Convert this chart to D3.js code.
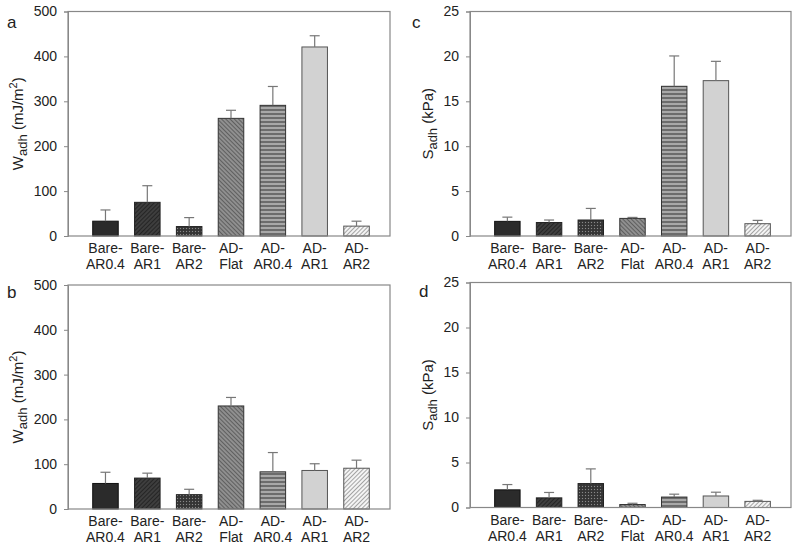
<!DOCTYPE html>
<html><head><meta charset="utf-8">
<script src="https://cdn.jsdelivr.net/npm/d3@7"></script>
<style>body{margin:0;background:#fff}svg{display:block}text{font-family:"Liberation Sans",Arial,sans-serif;fill:#222}</style>
</head><body>
<svg id="chart" width="800" height="545"></svg>
<script>
const categories = ["Bare-AR0.4","Bare-AR1","Bare-AR2","AD-Flat","AD-AR0.4","AD-AR1","AD-AR2"];
const labelLines = [["Bare-","AR0.4"],["Bare-","AR1"],["Bare-","AR2"],["AD-","Flat"],["AD-","AR0.4"],["AD-","AR1"],["AD-","AR2"]];
// panel a: W_adh (mJ/m2)
const wadhA = [33, 75, 21, 262, 291, 421, 22];
const wadhAErr = [58, 112, 41, 280, 333, 446, 33];
// panel b: W_adh (mJ/m2)
const wadhB = [57, 69, 32, 230, 83, 86, 91];
const wadhBErr = [82, 80, 44, 249, 126, 101, 109];
// panel c: S_adh (kPa)
const sadhC = [1.63, 1.5, 1.78, 1.96, 16.67, 17.3, 1.37];
const sadhCErr = [2.1, 1.78, 3.07, 2.07, 20.05, 19.45, 1.74];
// panel d: S_adh (kPa)
const sadhD = [1.96, 1.07, 2.66, 0.33, 1.16, 1.28, 0.68];
const sadhDErr = [2.55, 1.67, 4.29, 0.47, 1.48, 1.7, 0.8];
const wTicks = [0,100,200,300,400,500];
const sTicks = [0,5,10,15,20,25];

const svg = d3.select("#chart");
const defs = svg.append("defs");
function pat(id, w, h, bg, draw, rot){
  const p = defs.append("pattern").attr("id", id).attr("patternUnits","userSpaceOnUse")
    .attr("width", w).attr("height", h);
  if (rot) p.attr("patternTransform", "rotate(" + rot + ")");
  p.append("rect").attr("width", w).attr("height", h).attr("fill", bg);
  draw(p);
}
pat("p1", 4, 4, "#2b2b2b", p=>{});
pat("p2", 3, 3, "#3e3e3e", p=>p.append("line").attr("x1",0).attr("y1",0).attr("x2",0).attr("y2",3).attr("stroke","#1a1a1a").attr("stroke-width",1.4), 45);
pat("p3", 3, 3, "#3a3a3a", p=>{p.append("rect").attr("x",0).attr("y",0).attr("width",1).attr("height",1).attr("fill","#888");p.append("rect").attr("x",1.5).attr("y",1.5).attr("width",1).attr("height",1).attr("fill","#222");});
pat("p4", 3, 3, "#8f8f8f", p=>p.append("line").attr("x1",0).attr("y1",0).attr("x2",0).attr("y2",3).attr("stroke","#444").attr("stroke-width",1.3), -45);
pat("p5", 4, 4, "#a8a8a8", p=>p.append("line").attr("x1",0).attr("y1",2).attr("x2",4).attr("y2",2).attr("stroke","#444").attr("stroke-width",1.2));
pat("p6", 4, 4, "#d2d2d2", p=>{});
pat("p7", 3, 3, "#f4f4f4", p=>p.append("line").attr("x1",0).attr("y1",0).attr("x2",0).attr("y2",3).attr("stroke","#555").attr("stroke-width",1), 45);
const fills = ["url(#p1)","url(#p2)","url(#p3)","url(#p4)","url(#p5)","url(#p6)","url(#p7)"];
const strokes = ["#111","#222","#222","#333","#333","#555","#555"];

function panel(cfg){
  const g = svg.append("g");
  const x = d3.scaleBand().domain(categories).range([cfg.x0 + 4, cfg.x1]).paddingInner(0.39).paddingOuter(0.495);
  const y = d3.scaleLinear().domain([0, cfg.max]).range([cfg.y1, cfg.y0]);
  g.selectAll("rect.bar").data(categories).join("rect").attr("class","bar")
    .attr("x", d=>x(d)).attr("width", x.bandwidth())
    .attr("y", (d,i)=>y(cfg.vals[i])).attr("height", (d,i)=>y(0)-y(cfg.vals[i]))
    .attr("fill", (d,i)=>fills[i]).attr("stroke", (d,i)=>strokes[i]).attr("stroke-width",1);
  const eg = g.append("g").attr("stroke","#777").attr("stroke-width",1.2);
  categories.forEach((c,i)=>{
    const cx = x(c) + x.bandwidth()/2;
    eg.append("line").attr("x1",cx).attr("x2",cx).attr("y1",y(cfg.vals[i])).attr("y2",y(cfg.errs[i]));
    eg.append("line").attr("x1",cx-5).attr("x2",cx+5).attr("y1",y(cfg.errs[i])).attr("y2",y(cfg.errs[i]));
  });
  g.append("rect").attr("x",cfg.x0).attr("y",cfg.y0).attr("width",cfg.x1-cfg.x0).attr("height",cfg.y1-cfg.y0)
    .attr("fill","none").attr("stroke","#888").attr("stroke-width",1.2);
  const ax = g.append("g").attr("transform","translate("+cfg.x0+",0)")
    .call(d3.axisLeft(y).tickValues(cfg.ticks).tickSize(4).tickPadding(7));
  ax.select(".domain").attr("stroke","#888");
  ax.selectAll(".tick line").attr("stroke","#888");
  ax.selectAll(".tick text").attr("font-size",14).attr("fill","#222");
  categories.forEach((c,i)=>{
    const cx = x(c) + x.bandwidth()/2;
    const t = g.append("text").attr("text-anchor","middle").attr("font-size",14);
    t.append("tspan").attr("x",cx).attr("y",cfg.y1+17).text(labelLines[i][0]);
    t.append("tspan").attr("x",cx).attr("y",cfg.y1+33).text(labelLines[i][1]);
  });
  const ly = (cfg.y0+cfg.y1)/2;
  const yl = g.append("text").attr("transform","translate("+cfg.lx+","+ly+") rotate(-90)")
    .attr("text-anchor","middle").attr("font-size",15);
  yl.append("tspan").text(cfg.sym);
  yl.append("tspan").attr("font-size",13).attr("dy",4).text("adh");
  if (cfg.unit === "kPa") {
    yl.append("tspan").attr("dy",-4).text(" (kPa)");
  } else {
    yl.append("tspan").attr("dy",-4).text(" (mJ/m");
    yl.append("tspan").attr("font-size",11).attr("dy",-6).text("2");
    yl.append("tspan").attr("dy",6).text(")");
  }
  g.append("text").attr("x",cfg.px).attr("y",cfg.py).attr("font-size",17).text(cfg.letter);
}

panel({x0:68, x1:390, y0:11.5, y1:236, max:500, ticks:wTicks, vals:wadhA, errs:wadhAErr, sym:"W", unit:"mJ", lx:23, letter:"a", px:7, py:28});
panel({x0:470, x1:791, y0:11.5, y1:236, max:25, ticks:sTicks, vals:sadhC, errs:sadhCErr, sym:"S", unit:"kPa", lx:433, letter:"c", px:412, py:28});
panel({x0:68, x1:390, y0:285, y1:509, max:500, ticks:wTicks, vals:wadhB, errs:wadhBErr, sym:"W", unit:"mJ", lx:23, letter:"b", px:7, py:298});
panel({x0:470, x1:791, y0:282.5, y1:507.5, max:25, ticks:sTicks, vals:sadhD, errs:sadhDErr, sym:"S", unit:"kPa", lx:433, letter:"d", px:419, py:297});
</script>
</body></html>
